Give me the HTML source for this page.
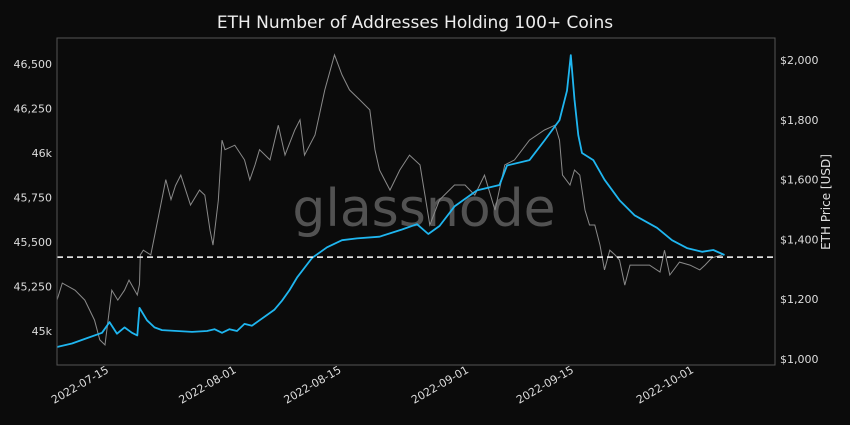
<!DOCTYPE html>
<html><head><meta charset="utf-8"><style>
html,body{margin:0;padding:0;background:#0b0b0b;}
svg{display:block;font-family:"Liberation Sans","DejaVu Sans",sans-serif;}
</style></head><body>
<svg id="chart" width="850" height="425" viewBox="0 0 850 425" xmlns="http://www.w3.org/2000/svg">
<rect x="0" y="0" width="850" height="425" fill="#0b0b0b"/>
<text x="415" y="28" fill="#eeeeee" font-size="17" text-anchor="middle" font-family="DejaVu Sans, sans-serif">ETH Number of Addresses Holding 100+ Coins</text>
<text x="424" y="226" fill="#5a5a5a" font-size="52" text-anchor="middle" font-family="DejaVu Sans, sans-serif" opacity="0.9">glassnode</text>
<g id="axes"></g>
<g id="series"></g>
<rect x="57" y="38" width="718" height="327" fill="none" stroke="#555" stroke-width="1"/>
<text transform="translate(830,202) rotate(-90)" fill="#dddddd" font-size="12" text-anchor="middle" font-family="DejaVu Sans, sans-serif">ETH Price [USD]</text>
</svg>
<script>
const addrDays = [0,2,4,6,7,8,9,10,10.7,11,12,13,14,16,18,20,21,22,23,24,25,26,27,28,29,30,31,32,34,36,38,40,43,46,48,49.5,51,53,56,59,60,63,65,67,68,68.5,69,69.5,70,71.5,73,75,77,80,82,84,86,87.5,89];
const addrValues = [44910,44930,44960,44990,45050,44985,45020,44990,44975,45130,45060,45020,45005,45000,44995,45000,45010,44990,45010,45000,45040,45030,45060,45090,45120,45170,45230,45300,45410,45470,45510,45520,45530,45570,45600,45545,45590,45700,45790,45820,45930,45960,46070,46185,46350,46550,46300,46100,46000,45960,45850,45735,45650,45580,45510,45466,45445,45455,45427];
const priceDays = [0,0.7,2.4,3.7,5,5.7,6.4,7.3,8.1,9,9.6,10.7,11,11.1,11.5,12.5,14.5,15.2,15.8,16.5,17.8,19,19.7,20.4,20.8,21.5,22,22.4,23.7,25,25.7,26.4,27,28.4,29.5,30.4,31.7,32.4,33,34.4,35.7,37,38,39,40.4,41.7,42.4,43,44.4,45.7,47,48.4,49.7,51,53,54.4,55.7,57,58.4,59.7,61,63,65,66.4,67,67.4,68.4,69,69.7,70.4,71,71.7,72.4,73,73.7,74.4,75,75.7,76.4,77.7,79,80.4,81,81.7,83,84.4,85.7,86.4,87.3,88.7];
const priceValues = [1197,1254,1230,1197,1130,1064,1047,1230,1197,1230,1264,1214,1250,1348,1364,1348,1600,1533,1580,1615,1515,1565,1548,1431,1381,1530,1732,1700,1715,1666,1599,1649,1700,1666,1782,1682,1766,1800,1682,1749,1900,2017,1950,1900,1866,1833,1699,1632,1565,1632,1682,1649,1448,1532,1582,1582,1548,1615,1498,1649,1666,1732,1766,1782,1732,1615,1582,1632,1615,1498,1448,1448,1381,1298,1364,1348,1331,1247,1314,1314,1314,1291,1364,1281,1324,1314,1298,1314,1338,1348];
const xTickDays = [7,24,38,55,69,85];
const xTickLabels = ["2022-07-15","2022-08-01","2022-08-15","2022-09-01","2022-09-15","2022-10-01"];
const leftTicks = [45000,45250,45500,45750,46000,46250,46500];
const leftTickLabels = ["45k","45,250","45,500","45,750","46k","46,250","46,500"];
const rightTicks = [1000,1200,1400,1600,1800,2000];
const rightTickLabels = ["$1,000","$1,200","$1,400","$1,600","$1,800","$2,000"];
const refLineValue = 45415;

const NS="http://www.w3.org/2000/svg";
const xS = d => 57 + d*7.5;
const yL = v => 331 - (v-45000)*0.178;
const yR = v => 359 - (v-1000)*0.299;
function mk(tag, attrs, parent){const e=document.createElementNS(NS,tag);for(const k in attrs)e.setAttribute(k,attrs[k]);parent.appendChild(e);return e;}
const axes=document.getElementById('axes'), series=document.getElementById('series');
xTickDays.forEach((d,i)=>{
  const x=xS(d);
  const l=mk('text',{x:x,y:372,fill:'#dddddd','font-size':11,'text-anchor':'end',transform:`rotate(-30 ${x} 372)`,'font-family':'DejaVu Sans, sans-serif'},axes);
  l.textContent=xTickLabels[i];
  
  
});
leftTicks.forEach((v,i)=>{
  const y=yL(v);
  const l=mk('text',{x:52,y:y+4,fill:'#dddddd','font-size':11,'text-anchor':'end','font-family':'DejaVu Sans, sans-serif'},axes);
  l.textContent=leftTickLabels[i];
  
  
});
rightTicks.forEach((v,i)=>{
  const y=yR(v);
  const l=mk('text',{x:780,y:y+4,fill:'#dddddd','font-size':11,'text-anchor':'start','font-family':'DejaVu Sans, sans-serif'},axes);
  l.textContent=rightTickLabels[i];
  
  
});
const pp=mk('polyline',{points:priceDays.map((d,i)=>xS(d).toFixed(1)+','+yR(priceValues[i]).toFixed(1)).join(' '),fill:'none',stroke:'#8a8a8a','stroke-width':1},series);


const ap=mk('polyline',{points:addrDays.map((d,i)=>xS(d).toFixed(1)+','+yL(addrValues[i]).toFixed(1)).join(' '),fill:'none',stroke:'#1fb6f0','stroke-width':1.8,'stroke-linejoin':'round'},series);


const rl=mk('line',{x1:57,x2:775,y1:yL(refLineValue),y2:yL(refLineValue),stroke:'#ffffff','stroke-width':1.5,'stroke-dasharray':'6,4'},series);


</script>
</body></html>
